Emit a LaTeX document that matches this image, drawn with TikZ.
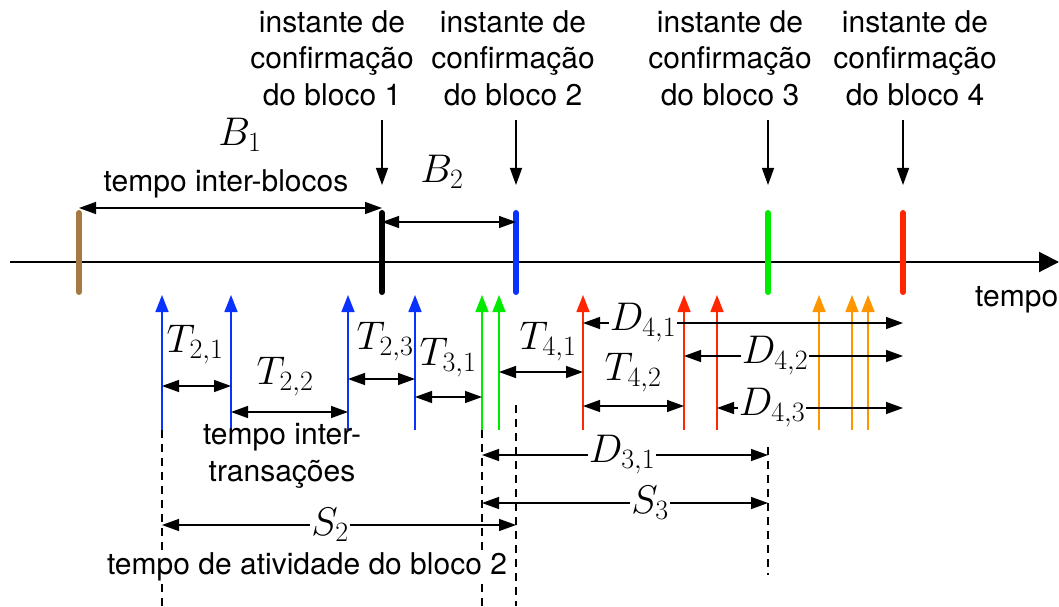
\RequirePackage{fix-cm}
\documentclass[tikz,border=0pt]{standalone}
\usepackage{fontspec}
\setmainfont{TeX Gyre Heros}
\usepackage{xcolor}
\usepackage{tikz}
\usetikzlibrary{arrows.meta}

\definecolor{mbrown}{RGB}{168,120,66}
\definecolor{mblue}{RGB}{10,50,255}
\definecolor{mgreen}{RGB}{0,235,0}
\definecolor{mred}{RGB}{255,38,0}
\definecolor{morange}{RGB}{255,150,0}

\begin{document}
\begin{tikzpicture}[
  x=1pt, y=1pt,
  note/.style={font=\fontsize{30}{36.5}\selectfont, align=center, inner sep=0pt},
  sym/.style={font=\fontsize{40}{44}\selectfont, inner sep=1pt},
  blockmark/.style={line width=6pt, line cap=round},
  timeline/.style={-{Triangle[length=20pt, width=20pt]}, line width=2pt},
  instant/.style={-{Triangle[length=17pt, width=12pt]}, line width=1.4pt},
  txn/.style={-{Triangle[length=17pt, width=13pt]}, line width=1.5pt},
  span/.style={{Triangle[length=17pt, width=12pt]}-{Triangle[length=17pt, width=12pt]}, line width=1.4pt},
  guide/.style={line width=1.3pt, dash pattern=on 8pt off 6pt}
]
\useasboundingbox (0,0) rectangle (1059,606);

% block columns and transaction columns
\coordinate (k0) at (79,0);
\coordinate (k1) at (382,0);
\coordinate (k2) at (516,0);
\coordinate (k3) at (768,0);
\coordinate (k4) at (903,0);
\coordinate (tx1) at (162,0);
\coordinate (tx2) at (231,0);
\coordinate (tx3) at (348,0);
\coordinate (tx4) at (415,0);
\coordinate (tx5) at (482,0);
\coordinate (tx6) at (499,0);
\coordinate (tx7) at (583,0);
\coordinate (tx8) at (684,0);
\coordinate (tx9) at (717,0);
\coordinate (tx10) at (819,0);
\coordinate (tx11) at (852,0);
\coordinate (tx12) at (868,0);
\coordinate (ax0) at (10,344);
\coordinate (ax1) at (1059,344);

% dashed guides
\draw[guide] ([yshift=176]tx1) -- (tx1);
\draw[guide] ([yshift=176]tx5) -- (tx5);
\draw[guide] ([yshift=201]k2) -- (k2);
\draw[guide] ([yshift=159]k3) -- ([yshift=31]k3);

% time axis
\draw[timeline] (ax0) -- (ax1);
\node[note, anchor=west] (tempo) at (975,306) {tempo};

% blocks
\draw[blockmark, mbrown] ([yshift=314]k0) -- ([yshift=393]k0);
\draw[blockmark, black] ([yshift=314]k1) -- ([yshift=393]k1);
\draw[blockmark, mblue] ([yshift=314]k2) -- ([yshift=393]k2);
\draw[blockmark, mgreen] ([yshift=314]k3) -- ([yshift=393]k3);
\draw[blockmark, mred] ([yshift=314]k4) -- ([yshift=393]k4);

\node[note] (conf1) at (332,548) {instante de\\confirmação\\do bloco 1};
\node[note] (conf2) at (513,548) {instante de\\confirmação\\do bloco 2};
\node[note] (conf3) at (730,548) {instante de\\confirmação\\do bloco 3};
\node[note] (conf4) at (915,548) {instante de\\confirmação\\do bloco 4};
\draw[instant] ([yshift=486]k1) -- ([yshift=421]k1);
\draw[instant] ([yshift=486]k2) -- ([yshift=421]k2);
\draw[instant] ([yshift=486]k3) -- ([yshift=421]k3);
\draw[instant] ([yshift=486]k4) -- ([yshift=421]k4);

% inter-block times
\draw[span] ([yshift=398]k0) -- ([yshift=398]k1);
\draw[span] ([yshift=384]k1) -- ([yshift=384]k2);
\node[sym] (b1) at (240,471) {$B_1$};
\node[note] (interblk) at (226,422) {tempo inter-blocos};
\node[sym] (b2) at (442,434) {$B_2$};

% transactions
\draw[txn, mblue] ([yshift=176]tx1) -- ([yshift=311]tx1);
\draw[txn, mblue] ([yshift=176]tx2) -- ([yshift=311]tx2);
\draw[txn, mblue] ([yshift=176]tx3) -- ([yshift=311]tx3);
\draw[txn, mblue] ([yshift=176]tx4) -- ([yshift=311]tx4);
\draw[txn, mgreen] ([yshift=176]tx5) -- ([yshift=311]tx5);
\draw[txn, mgreen] ([yshift=176]tx6) -- ([yshift=311]tx6);
\draw[txn, mred] ([yshift=176]tx7) -- ([yshift=311]tx7);
\draw[txn, mred] ([yshift=176]tx8) -- ([yshift=311]tx8);
\draw[txn, mred] ([yshift=176]tx9) -- ([yshift=311]tx9);
\draw[txn, morange] ([yshift=176]tx10) -- ([yshift=311]tx10);
\draw[txn, morange] ([yshift=176]tx11) -- ([yshift=311]tx11);
\draw[txn, morange] ([yshift=176]tx12) -- ([yshift=311]tx12);

% inter-transaction times
\draw[span] ([yshift=220]tx1) -- ([yshift=220]tx2);
\draw[span] ([yshift=194]tx2) -- ([yshift=194]tx3);
\draw[span] ([yshift=227]tx3) -- ([yshift=227]tx4);
\draw[span] ([yshift=209]tx4) -- ([yshift=209]tx5);
\draw[span] ([yshift=234]tx6) -- ([yshift=234]tx7);
\draw[span] ([yshift=200]tx7) -- ([yshift=200]tx8);
\node[sym] (t21) at (195,261) {$T_{2,1}$};
\node[sym] (t22) at (285,229) {$T_{2,2}$};
\node[sym] (t23) at (385,264) {$T_{2,3}$};
\node[sym] (t31) at (448,248) {$T_{3,1}$};
\node[sym] (t41) at (548,264) {$T_{4,1}$};
\node[sym] (t42) at (633,233) {$T_{4,2}$};
\node[note] (intertx) at (282,150) {tempo inter-\\transações};

% delays and activity times
\draw[span] ([yshift=283]tx7) -- ([yshift=283]k4);
\draw[span] ([yshift=250]tx8) -- ([yshift=250]k4);
\draw[span] ([yshift=198]tx9) -- ([yshift=198]k4);
\draw[span] ([yshift=151]tx5) -- ([yshift=151]k3);
\draw[span] ([yshift=103]tx5) -- ([yshift=103]k3);
\draw[span] ([yshift=81]tx1) -- ([yshift=81]k2);
\node[sym, fill=white] (d41) at (643,283) {$D_{4,1}$};
\node[sym, fill=white] (d42) at (775,250) {$D_{4,2}$};
\node[sym, fill=white] (d43) at (772,198) {$D_{4,3}$};
\node[sym, fill=white] (d31) at (622,151) {$D_{3,1}$};
\node[sym, fill=white] (s3) at (650,103) {$S_3$};
\node[sym, fill=white] (s2) at (330,81) {$S_2$};
\node[note, fill=white, inner sep=2pt] (activity) at (307,39) {tempo de atividade do bloco 2};
\end{tikzpicture}
\end{document}
